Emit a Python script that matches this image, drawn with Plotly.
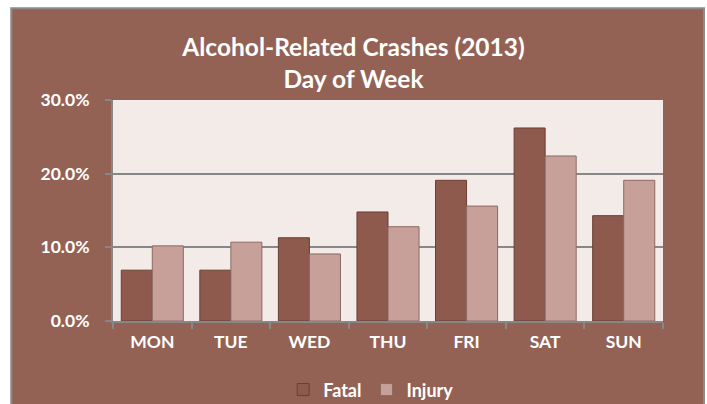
import plotly.graph_objects as go

days = ['MON', 'TUE', 'WED', 'THU', 'FRI', 'SAT', 'SUN']
fatal = [0.069, 0.069, 0.113, 0.148, 0.191, 0.262, 0.143]
injury = [0.102, 0.107, 0.091, 0.128, 0.156, 0.224, 0.191]

BROWN = '#946254'
GRID = '#878787'
FONT = 'Lato'

fig = go.Figure()
fig.add_trace(go.Bar(x=days, y=fatal, name='<b>Fatal</b>',
    marker=dict(color='#8E5A4D', line=dict(color='#6A3E34', width=1))))
fig.add_trace(go.Bar(x=days, y=injury, name='<b>Injury</b>',
    marker=dict(color='#C7A199', line=dict(color='#8C6A62', width=1))))

fig.update_layout(
    width=707, height=404,
    margin=dict(l=113, r=44, t=100, b=83),
    paper_bgcolor='white', plot_bgcolor='#F3EBE8',
    barmode='group', bargap=0.21, bargroupgap=0,
    title=dict(text='<b>Alcohol-Related Crashes (2013)<br>Day of Week</b>',
               x=0.5, xanchor='center', y=0.862, yanchor='middle',
               font=dict(family=FONT, size=24.5, color='white')),
    font=dict(family=FONT, color='white'),
    legend=dict(orientation='h', xref='container', yref='container',
                x=0.525, xanchor='center', y=0.035, yanchor='middle',
                bgcolor='rgba(0,0,0,0)',
                font=dict(family=FONT, size=18, color='white'), itemwidth=30,
                traceorder='normal'),
    showlegend=True,
    shapes=[
        # chart area with gray frame
        dict(type='rect', xref='paper', yref='paper', layer='below',
             x0=-0.185, x1=1.0745, y0=-0.39, y1=1.415,
             fillcolor=BROWN, line=dict(color='#8A8A8A', width=2)),
        # plot area fill
        dict(type='rect', xref='paper', yref='paper', layer='below',
             x0=0, x1=1, y0=0, y1=1, fillcolor='#F3EBE8', line=dict(width=0)),
    ],
)
fig.update_xaxes(showline=True, linecolor=GRID, linewidth=2,
                 ticks='outside', tickson='boundaries', ticklen=6, tickcolor=GRID, tickwidth=2,
                 ticklabelstandoff=4,
                 tickfont=dict(family=FONT, size=17.5, color='white'),
                 tickprefix='<b>', ticksuffix='</b>')
fig.update_yaxes(range=[0, 0.30], dtick=0.1, tickformat='.1%',
                 showline=True, linecolor=GRID, linewidth=2,
                 ticks='outside', ticklen=6, tickcolor=GRID, tickwidth=2,
                 ticklabelstandoff=12,
                 gridcolor=GRID, gridwidth=2, zeroline=False,
                 tickfont=dict(family=FONT, size=17.5, color='white'),
                 tickprefix='<b>', ticksuffix='</b>')

fig.write_html('out.html', config={'displayModeBar': False},
               post_script="document.body.style.margin='0';")
